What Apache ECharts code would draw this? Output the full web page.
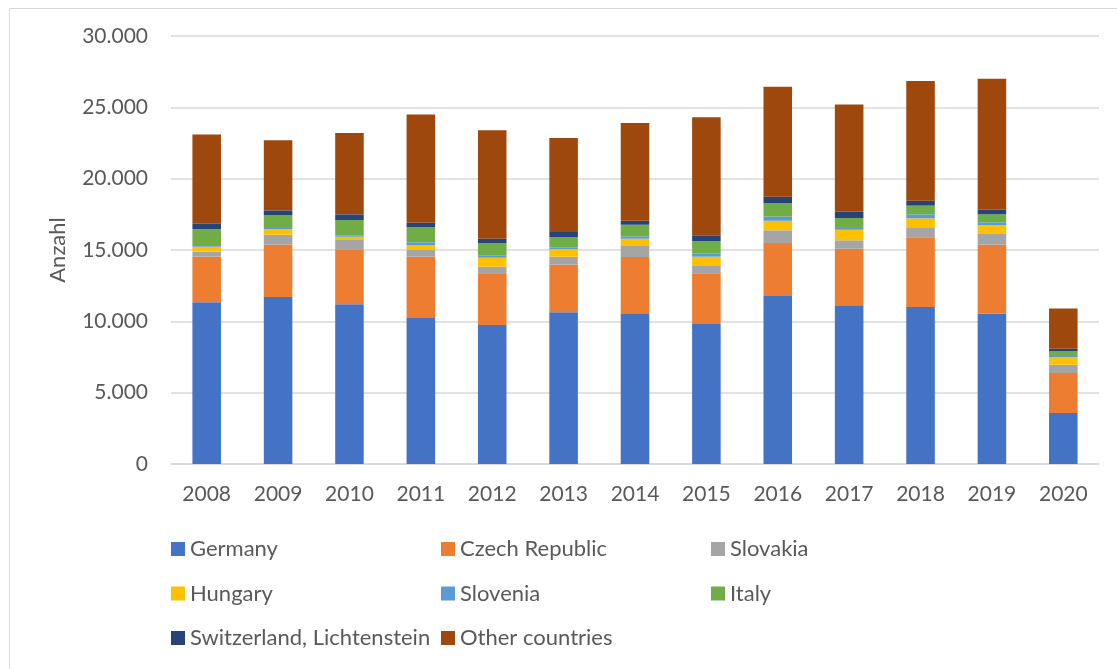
<!DOCTYPE html>
<html>
<head>
<meta charset="utf-8">
<script src="https://cdn.jsdelivr.net/npm/echarts@6/dist/echarts.min.js"></script>
<style>
  html, body { margin: 0; padding: 0; background: #ffffff; }
  #chart { width: 1117px; height: 669px; }
</style>
</head>
<body>
<div id="chart"></div>
<script>
// Years on the category axis
const years = ['2008', '2009', '2010', '2011', '2012', '2013', '2014', '2015', '2016', '2017', '2018', '2019', '2020'];

// Counts per country of origin (Anzahl)
const germany     = [11330, 11710, 11190, 10230, 9750, 10630, 10560, 9810, 11780, 11120, 11000, 10540, 3570];
const czech       = [3200, 3660, 3860, 4300, 3570, 3340, 3950, 3560, 3710, 3970, 4890, 4830, 2810];
const slovakia    = [350, 700, 650, 470, 510, 560, 820, 560, 890, 590, 650, 800, 580];
const hungary     = [350, 400, 230, 350, 630, 540, 460, 600, 670, 740, 680, 580, 520];
const slovenia    = [120, 140, 100, 190, 170, 120, 170, 210, 290, 190, 280, 190, 160];
const italy       = [1120, 840, 1070, 1050, 840, 720, 810, 890, 930, 630, 610, 560, 280];
const switzerland = [400, 330, 400, 320, 320, 350, 280, 400, 470, 470, 350, 350, 160];
const other       = [6230, 4920, 5700, 7590, 7610, 6590, 6850, 8270, 7710, 7490, 8390, 9150, 2820];

// Y axis tick values
const yTicks = [0, 5000, 10000, 15000, 20000, 25000, 30000];

const seriesDefs = [
  { name: 'Germany', data: germany, color: '#4472C4' },
  { name: 'Czech Republic', data: czech, color: '#ED7D31' },
  { name: 'Slovakia', data: slovakia, color: '#A5A5A5' },
  { name: 'Hungary', data: hungary, color: '#FFC000' },
  { name: 'Slovenia', data: slovenia, color: '#5B9BD5' },
  { name: 'Italy', data: italy, color: '#70AD47' },
  { name: 'Switzerland, Lichtenstein', data: switzerland, color: '#264478' },
  { name: 'Other countries', data: other, color: '#9E480E' }
];

const FONT = 'Lato, "Open Sans", sans-serif';
const TEXT = '#595959';

function fmt(v) {
  return String(v).replace(/\B(?=(\d{3})+(?!\d))/g, '.');
}

const legendBase = {
  orient: 'vertical',
  icon: 'rect',
  padding: 0,
  itemWidth: 14,
  itemHeight: 14,
  itemGap: 22.5,
  top: 538,
  textStyle: { color: TEXT, fontSize: 22, fontFamily: FONT, lineHeight: 22 }
};

const chart = echarts.init(document.getElementById('chart'), null, { renderer: 'canvas' });
chart.setOption({
  backgroundColor: '#ffffff',
  animation: false,
  textStyle: { fontFamily: FONT },
  graphic: [{
    type: 'rect',
    left: 7, top: 6,
    shape: { width: 1140, height: 700 },
    style: { fill: 'none', stroke: '#d9d9d9', lineWidth: 1 },
    silent: true
  }],
  grid: { left: 171, right: 18, top: 36, bottom: 205, containLabel: false },
  legend: [
    Object.assign({}, legendBase, { left: 171, data: ['Germany', 'Hungary', 'Switzerland, Lichtenstein'] }),
    Object.assign({}, legendBase, { left: 441, data: ['Czech Republic', 'Slovenia', 'Other countries'] }),
    Object.assign({}, legendBase, { left: 711, data: ['Slovakia', 'Italy'] })
  ],
  xAxis: {
    type: 'category',
    data: years,
    axisLine: { lineStyle: { color: '#d9d9d9', width: 1.5 } },
    axisTick: { show: false },
    axisLabel: { color: TEXT, fontSize: 21, fontFamily: FONT, margin: 20 }
  },
  yAxis: {
    type: 'value',
    min: yTicks[0],
    max: yTicks[yTicks.length - 1],
    interval: yTicks[1] - yTicks[0],
    name: 'Anzahl',
    nameLocation: 'middle',
    nameRotate: 90,
    nameGap: 102,
    nameTextStyle: { color: TEXT, fontSize: 22, fontFamily: FONT },
    axisLine: { show: false },
    axisTick: { show: false },
    axisLabel: { color: TEXT, fontSize: 21, fontFamily: FONT, margin: 23, formatter: fmt },
    splitLine: { lineStyle: { color: '#d9d9d9', width: 1.5 } }
  },
  series: seriesDefs.map(s => ({
    name: s.name,
    type: 'bar',
    stack: 'total',
    barWidth: '40%',
    data: s.data,
    itemStyle: { color: s.color },
    emphasis: { disabled: true }
  }))
});
</script>
</body>
</html>
